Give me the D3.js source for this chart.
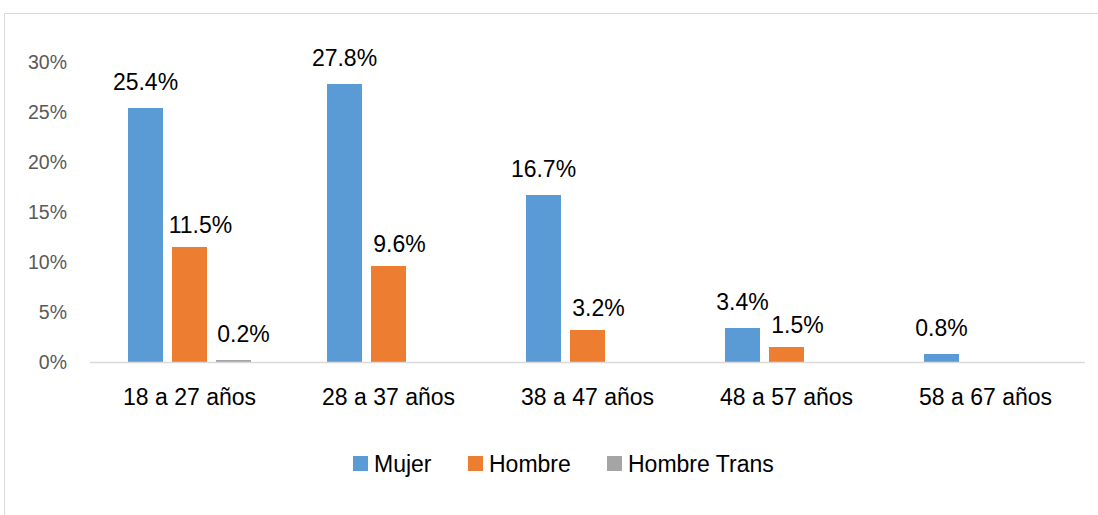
<!DOCTYPE html>
<html>
<head>
<meta charset="utf-8">
<script src="https://cdn.jsdelivr.net/npm/d3@7"></script>
<style>
  html, body { margin: 0; padding: 0; background: #fff; }
  svg { display: block; }
</style>
</head>
<body>
<div id="chart"></div>
<script>
// data
const categories = ["18 a 27 años", "28 a 37 años", "38 a 47 años", "48 a 57 años", "58 a 67 años"];
const seriesNames = ["Mujer", "Hombre", "Hombre Trans"];
const mujer = [25.4, 27.8, 16.7, 3.4, 0.8];
const hombre = [11.5, 9.6, 3.2, 1.5, 0];
const hombreTrans = [0.2, 0, 0, 0, 0];
const yTicks = [0, 5, 10, 15, 20, 25, 30];

const colors = ["#5b9bd5", "#ed7d31", "#a5a5a5"];
const values = [mujer, hombre, hombreTrans];

const width = 1098, height = 515;
const font = "'Liberation Sans', Arial, sans-serif";

const svg = d3.create("svg")
    .attr("width", width)
    .attr("height", height)
    .attr("viewBox", [0, 0, width, height]);

// chart frame (cut off at right / bottom)
svg.append("path")
    .attr("d", `M4.5,${height} V13.5 H${width}`)
    .attr("fill", "none")
    .attr("stroke", "#d9d9d9")
    .attr("stroke-width", 1);

const x0 = d3.scaleBand()
    .domain(categories)
    .range([90, 1085])
    .padding(0);

const x1 = d3.scaleBand()
    .domain(seriesNames)
    .range([0, x0.bandwidth()])
    .paddingInner(0.2045)
    .paddingOuter(0.864);

const y = d3.scaleLinear()
    .domain([0, 30])
    .range([362, 62]);

// y axis labels (no axis line, no gridlines)
const yAxis = d3.axisLeft(y)
    .tickValues(yTicks)
    .tickFormat(d => d + "%")
    .tickSize(0)
    .tickPadding(0);

svg.append("g")
    .attr("transform", "translate(67,0)")
    .call(yAxis)
    .call(g => g.select(".domain").remove())
    .call(g => g.selectAll("text")
        .attr("font-family", font)
        .attr("font-size", 19.5)
        .attr("fill", "#595959"));

// rows for grouped bars
const rows = categories.map((c, i) => ({
    cat: c,
    vals: seriesNames.map((s, j) => ({ series: s, j: j, value: values[j][i] }))
}));

const groups = svg.append("g")
    .selectAll("g")
    .data(rows)
    .join("g")
    .attr("transform", d => `translate(${x0(d.cat)},0)`);

groups.selectAll("rect")
    .data(d => d.vals.filter(v => v.value > 0))
    .join("rect")
    .attr("x", d => x1(d.series))
    .attr("y", d => y(d.value))
    .attr("width", x1.bandwidth())
    .attr("height", d => y(0) - y(d.value))
    .attr("fill", d => colors[d.j]);

// data labels, orange/gray nudged a bit right like the original
const labelDx = [0, 11, 10];
const labelGap = [18, 14, 18];
groups.selectAll("text.lbl")
    .data(d => d.vals.filter(v => v.value > 0))
    .join("text")
    .attr("class", "lbl")
    .attr("x", d => x1(d.series) + x1.bandwidth() / 2 + labelDx[d.j])
    .attr("y", d => y(d.value) - labelGap[d.j])
    .attr("text-anchor", "middle")
    .attr("font-family", font)
    .attr("font-size", 23)
    .attr("fill", "#000")
    .text(d => d.value.toFixed(1) + "%");

// baseline
svg.append("line")
    .attr("x1", 90).attr("x2", 1085)
    .attr("y1", y(0) + 0.5).attr("y2", y(0) + 0.5)
    .attr("stroke", "#d9d9d9")
    .attr("stroke-width", 1.5);

// category labels
const xAxis = d3.axisBottom(x0).tickSize(0).tickPadding(0);
svg.append("g")
    .attr("transform", `translate(0,${y(0)})`)
    .call(xAxis)
    .call(g => g.select(".domain").remove())
    .call(g => g.selectAll("text")
        .attr("dy", null)
        .attr("y", 43)
        .attr("font-family", font)
        .attr("font-size", 23)
        .attr("fill", "#000"));

// legend
const legendX = [353, 468, 607];
const legend = svg.append("g")
    .selectAll("g")
    .data(seriesNames)
    .join("g")
    .attr("transform", (d, i) => `translate(${legendX[i]},456)`);

legend.append("rect")
    .attr("width", 15)
    .attr("height", 15)
    .attr("fill", (d, i) => colors[i]);

legend.append("text")
    .attr("x", 21)
    .attr("y", 15.5)
    .attr("font-family", font)
    .attr("font-size", 23)
    .attr("fill", "#000")
    .text(d => d);

document.getElementById("chart").append(svg.node());
</script>
</body>
</html>
